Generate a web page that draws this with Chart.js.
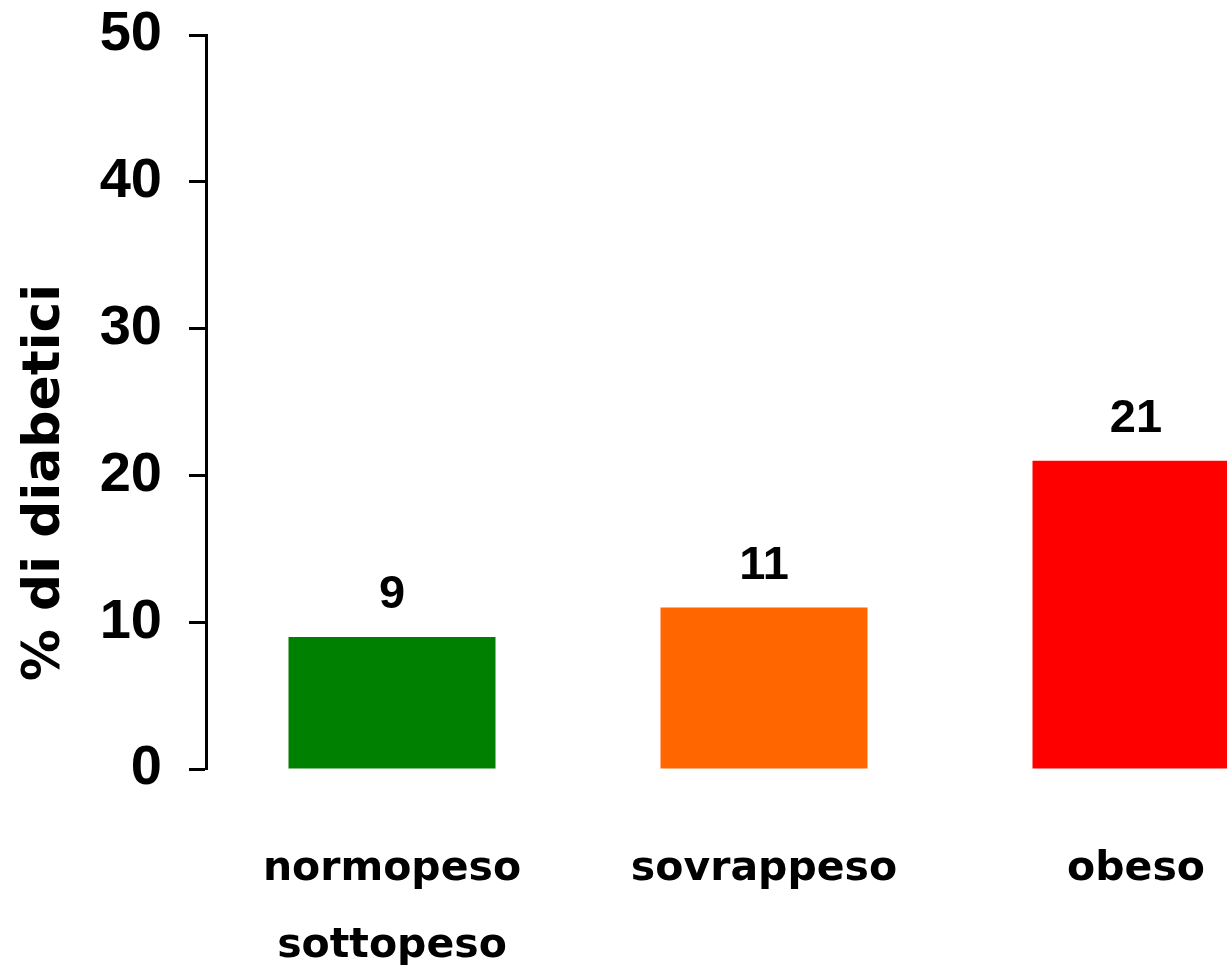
<!DOCTYPE html>
<html>
<head>
<meta charset="utf-8">
<script src="https://cdn.jsdelivr.net/npm/chart.js@4/dist/chart.umd.min.js"></script>
<style>
  html, body { margin: 0; padding: 0; background: #fff; }
  #wrap { width: 1227px; height: 965px; overflow: hidden; }
</style>
</head>
<body>
<div id="wrap"><canvas id="diabChart" width="1322" height="965"></canvas></div>
<script>
const categories = [['normopeso', 'sottopeso'], 'sovrappeso', 'obeso'];
const percentDiabetici = [9, 11, 21];
const barColors = ['#008000', '#FF6600', '#FF0000'];
const yTicks = [0, 10, 20, 30, 40, 50];
const yTitle = '% di diabetici';

// numbers over the bars + rotated axis title
const barLabels = {
    id: 'barLabels',
    afterDatasetsDraw(chart) {
        const ctx = chart.ctx;
        const meta = chart.getDatasetMeta(0);
        ctx.save();
        ctx.fillStyle = '#000';
        ctx.font = 'bold 47px "Liberation Sans", Arial, sans-serif';
        ctx.textAlign = 'center';
        ctx.textBaseline = 'alphabetic';
        meta.data.forEach((bar, i) => {
            ctx.fillText(String(percentDiabetici[i]), bar.x, bar.y - 29);
        });
        ctx.restore();
    },
    afterDraw(chart) {
        const ctx = chart.ctx;
        ctx.save();
        ctx.translate(45, chart.height / 2);
        ctx.rotate(-Math.PI / 2);
        ctx.fillStyle = '#000';
        ctx.font = 'bold 52px "DejaVu Sans", sans-serif';
        ctx.textAlign = 'center';
        ctx.textBaseline = 'middle';
        ctx.fillText(yTitle, 0, 0);
        ctx.restore();
    }
};

const ctx = document.getElementById('diabChart').getContext('2d');
const diabChart = new Chart(ctx, {
    type: 'bar',
    data: {
        labels: categories,
        datasets: [{
            data: percentDiabetici,
            backgroundColor: barColors,
            borderWidth: 0,
            categoryPercentage: 1,
            barPercentage: 207 / 372
        }]
    },
    options: {
        responsive: false,
        animation: false,
        devicePixelRatio: 1,
        layout: { padding: { top: 35, left: 0, right: 0, bottom: 0 } },
        plugins: {
            legend: { display: false },
            tooltip: { enabled: false }
        },
        scales: {
            x: {
                grid: { display: false },
                border: { display: false },
                ticks: {
                    color: '#000',
                    padding: 54,
                    maxRotation: 0,
                    autoSkip: false,
                    font: { family: '"DejaVu Sans", sans-serif', weight: 'bold', size: 41, lineHeight: 77 / 41 }
                },
                afterFit(scale) {
                    scale.height = 196;
                    scale.paddingLeft = 0;
                    scale.paddingRight = 0;
                }
            },
            y: {
                min: 0,
                max: 50,
                afterBuildTicks(scale) { scale.ticks = yTicks.map(v => ({ value: v })); },
                ticks: {
                    color: '#000',
                    padding: 27,
                    font: { family: '"Liberation Sans", Arial, sans-serif', weight: 'bold', size: 56 }
                },
                grid: {
                    drawOnChartArea: false,
                    drawTicks: true,
                    tickLength: 17,
                    tickWidth: 3,
                    tickColor: '#000',
                    color: '#000'
                },
                border: { display: true, color: '#000', width: 3 },
                afterFit(scale) {
                    scale.width = 206;
                    scale.paddingTop = 0;
                    scale.paddingBottom = 0;
                }
            }
        }
    },
    plugins: [barLabels]
});
</script>
</body>
</html>
